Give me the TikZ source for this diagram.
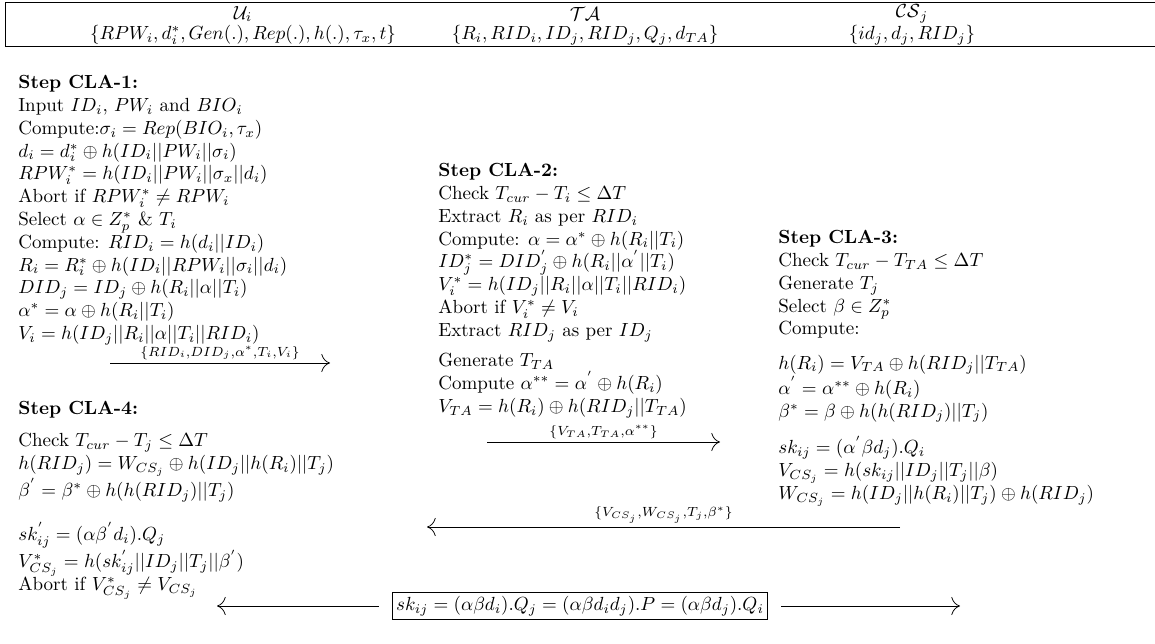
\documentclass[tikz,border=0pt]{standalone}
\usepackage{amsmath}
\usepackage{amssymb}
\usepackage{tikz}
\usetikzlibrary{positioning, arrows.meta}

\begin{document}
\begin{tikzpicture}[x=0.5263pt, y=-0.5263pt, >={To[length=1.6mm]},
  stepblock/.style={anchor=north west, align=left, inner sep=0pt},
  msg/.style={midway, above, inner sep=1.5pt}]
  \useasboundingbox (0,0) rectangle (1155,643);
  \draw (5,2) rectangle (1170,46);
  \node (U)   at (243,14) {$\mathcal{U}_i$};
  \node (Uk)  at (243,35) {$\{RPW_i, d_i^*, Gen(.), Rep(.), h(.), \tau_x, t\}$};
  \node (TA)  at (585,14) {$\mathcal{TA}$};
  \node (TAk) at (585,35) {$\{R_i, RID_i, ID_j, RID_j, Q_j, d_{TA}\}$};
  \node (CS)  at (912,14) {$\mathcal{CS}_j$};
  \node (CSk) at (912,35) {$\{id_j, d_j, RID_j\}$};

  \node[stepblock] (s1) at (18,75) {\textbf{Step CLA-1:}\\
    Input $ID_i$, $PW_i$ and $BIO_i$\\
    Compute:$\sigma_i = Rep(BIO_i, \tau_x)$\\
    $d_i = d_i^* \oplus h(ID_i||PW_i||\sigma_i)$\\
    $RPW_i^* = h(ID_i||PW_i||\sigma_x||d_i)$\\
    Abort if $RPW_i^* \neq RPW_i$\\
    Select $\alpha \in Z_p^*$ \& $T_i$\\
    Compute: $RID_i = h(d_i||ID_i)$\\
    $R_i = R_i^* \oplus h(ID_i||RPW_i||\sigma_i||d_i)$\\
    $DID_j = ID_j \oplus h(R_i||\alpha||T_i)$\\
    $\alpha^* = \alpha \oplus h(R_i||T_i)$\\
    $V_i = h(ID_j||R_i||\alpha||T_i||RID_i)$};
  \node[stepblock] (s2) at (438,163) {\textbf{Step CLA-2:}\\
    Check $T_{cur} - T_i \leq \Delta T$\\
    Extract $R_i$ as per $RID_i$\\
    Compute: $\alpha = \alpha^* \oplus h(R_i||T_i)$\\
    $ID_j^* = DID_j^{'} \oplus h(R_i||\alpha^{'}||T_i)$\\
    $V_i^* = h(ID_j||R_i||\alpha||T_i||RID_i)$\\
    Abort if $V_i^* \neq V_i$\\
    Extract $RID_j$ as per $ID_j$\\[4pt]
    Generate $T_{TA}$\\
    Compute $\alpha^{**} = \alpha^{'} \oplus h(R_i)$\\
    $V_{TA} = h(R_i) \oplus h(RID_j||T_{TA})$};
  \node[stepblock] (s3) at (778,230) {\textbf{Step CLA-3:}\\
    Check $T_{cur} - T_{TA} \leq \Delta T$\\
    Generate $T_j$\\
    Select $\beta \in Z_p^*$\\
    Compute:\\[6pt]
    $h(R_i) = V_{TA} \oplus h(RID_j||T_{TA})$\\
    $\alpha^{'} = \alpha^{**} \oplus h(R_i)$\\
    $\beta^* = \beta \oplus h(h(RID_j)||T_j)$\\[6pt]
    $sk_{ij} = (\alpha^{'}\beta d_j).Q_i$\\
    $V_{CS_j} = h(sk_{ij}||ID_j||T_j||\beta)$\\
    $W_{CS_j} = h(ID_j||h(R_i)||T_j) \oplus h(RID_j)$};
  \node[stepblock] (s4) at (18,401) {\textbf{Step CLA-4:}\\[5pt]
    Check $T_{cur} - T_j \leq \Delta T$\\
    $h(RID_j) = W_{CS_j} \oplus h(ID_j||h(R_i)||T_j)$\\
    $\beta^{'} = \beta^* \oplus h(h(RID_j)||T_j)$\\[10pt]
    $sk_{ij}^{'} = (\alpha\beta^{'} d_i).Q_j$\\
    $V_{CS_j}^* = h(sk_{ij}^{'}||ID_j||T_j||\beta^{'})$\\
    Abort if $V_{CS_j}^* \neq V_{CS_j}$};
  \node[draw, inner sep=2pt] (key) at (580,606)
    {$sk_{ij} = (\alpha\beta d_i).Q_j = (\alpha\beta d_i d_j).P = (\alpha\beta d_j).Q_i$};

  \coordinate (m1a) at (110,363);  \coordinate (m1b) at (330,363);
  \coordinate (m2a) at (487,442);  \coordinate (m2b) at (720,442);
  \coordinate (m3a) at (900,527);  \coordinate (m3b) at (427,527);
  \coordinate (kl)  at (217,606);  \coordinate (kr)  at (960,606);
  \draw[->] (m1a) -- (m1b) node[msg] {$\scriptstyle\{RID_i, DID_j, \alpha^*, T_i, V_i\}$};
  \draw[->] (m2a) -- (m2b) node[msg] {$\scriptstyle\{V_{TA}, T_{TA}, \alpha^{**}\}$};
  \draw[->] (m3a) -- (m3b) node[msg] {$\scriptstyle\{V_{CS_j}, W_{CS_j}, T_j, \beta^*\}$};
  \draw[->, shorten <=7pt] (key) -- (kl);
  \draw[->, shorten <=7pt] (key) -- (kr);
\end{tikzpicture}
\end{document}
